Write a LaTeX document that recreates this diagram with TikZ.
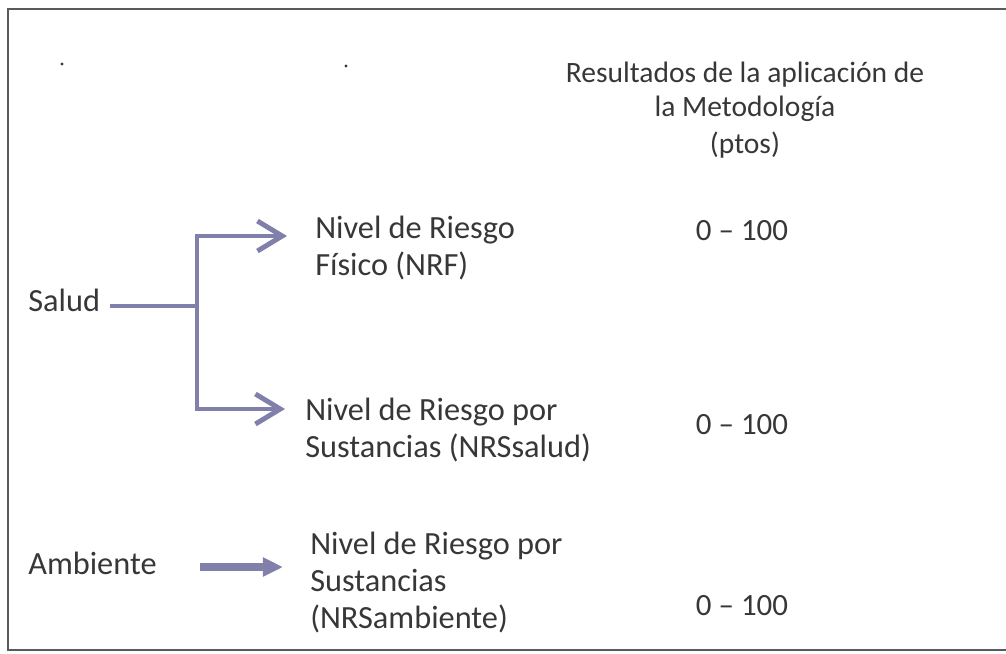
\documentclass[tikz,border=0pt]{standalone}
\usepackage{fontspec}
\setmainfont{Carlito}
\usetikzlibrary{arrows.meta,positioning,calc}
\definecolor{arrowc}{RGB}{128,128,170}
\definecolor{textc}{RGB}{55,55,55}
\definecolor{framec}{RGB}{90,90,90}
\begin{document}
\begin{tikzpicture}[x=0.025cm,y=-0.025cm,font=\fontsize{23}{26.3}\selectfont,text=textc,
  lbl/.style={inner sep=0pt,anchor=base west,align=left},
  val/.style={inner sep=0pt,anchor=base,font=\fontsize{22}{26}\selectfont},
  hd/.style={inner sep=0pt,anchor=base,font=\fontsize{21}{25}\selectfont},
  link/.style={draw=arrowc,line width=3.5pt},
  barb/.style={link,-{Straight Barb[length=0.62cm,width=0.75cm]}},
  block/.style={draw=arrowc,line width=5pt,-{Triangle[length=0.5cm,width=0.45cm]}}]
\useasboundingbox (0,0) rectangle (1006,653);
% frame
\draw[framec,line width=1.1pt] (1006,9) -- (8,9) -- (8,650) -- (1006,650);
\fill[textc] (62,64) circle (1.6) (346,66) circle (1.6);
% header
\node[hd] (head) at (745,82) {Resultados de la aplicación de};
\node[hd] (meth) at (745,116) {la Metodología};
\node[hd] (ptos) at (745,153) {(ptos)};
% left side
\node[lbl] (salud) at (28,311) {Salud};
\node[lbl] (amb) at (28,574) {Ambiente};
% levels (anchored at last baseline)
\node[lbl] (nrf) at (315,275) {Nivel de Riesgo\\Físico (NRF)};
\node[lbl] (nrss) at (305,457) {Nivel de Riesgo por\\Sustancias (NRSsalud)};
\node[lbl] (nrsa) at (310,628) {Nivel de Riesgo por\\Sustancias\\(NRSambiente)};
% values
\node[val] (v1) at (742,240) {0 -- 100};
\node[val] (v2) at (742,434) {0 -- 100};
\node[val] (v3) at (742,615) {0 -- 100};
% connectors
\coordinate (s0) at (110,306);
\coordinate (j) at (197,306);
\coordinate (tA) at (287,236);
\coordinate (tB) at (285,409);
\coordinate (a0) at (200,567);
\coordinate (a1) at (283,567);
\draw[link] (s0) -- (j);
\draw[barb] (j) |- (tA);
\draw[barb] (j) |- (tB);
\draw[block] (a0) -- (a1);
\end{tikzpicture}
\end{document}
